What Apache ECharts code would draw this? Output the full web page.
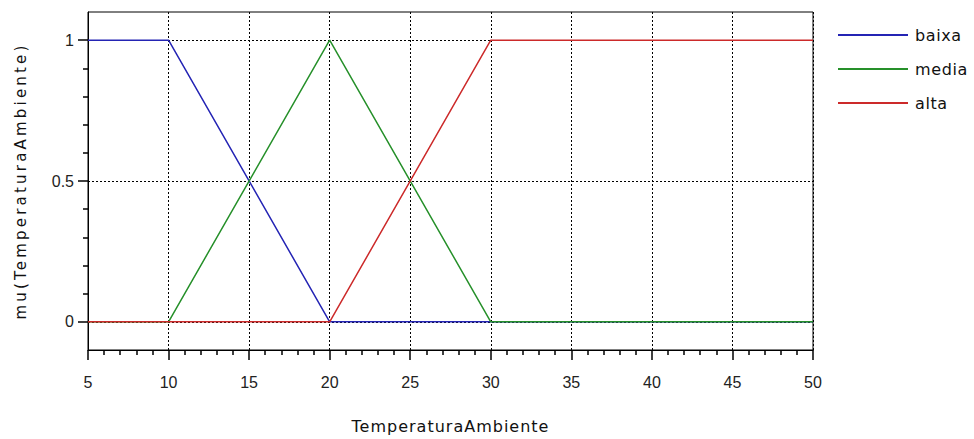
<!DOCTYPE html>
<html style="height: 100%">
<head>
    <meta charset="utf-8">
    <title>mu(TemperaturaAmbiente)</title>
</head>
<body style="height: 100%; margin: 0">
    <div id="container" style="width: 974px; height: 439px"></div>
    <script type="text/javascript" src="https://cdn.jsdelivr.net/npm/echarts@6/dist/echarts.min.js"></script>
    <script type="text/javascript">
        // funcoes de pertinencia (x, mu)
        var baixa = [[5, 1], [10, 1], [20, 0], [50, 0]];
        var media = [[5, 0], [10, 0], [20, 1], [30, 0], [50, 0]];
        var alta  = [[5, 0], [20, 0], [30, 1], [50, 1]];
        var nomes = ['baixa', 'media', 'alta'];
        var cores = ['#2424b4', '#26902a', '#cc2a2a'];
        var yMajor = [0, 0.5, 1];
        var yMinor = [0.1, 0.2, 0.3, 0.4, 0.6, 0.7, 0.8, 0.9];
        var xNome  = 'TemperaturaAmbiente';
        var yNome  = 'mu(TemperaturaAmbiente)';

        var dom     = document.getElementById("container");
        var myChart = echarts.init(dom, null, {renderer: 'svg'});
        var fonte   = 'Liberation Sans';

        function serie(nome, dados, cor) {
            return {
                name:       nome,
                type:       'line',
                data:       dados,
                showSymbol: false,
                symbol:     'none',
                lineStyle:  {color: cor, width: 1.5},
                itemStyle:  {color: cor}
            };
        }

        option = {
            animation: false,
            grid: {
                left:   88,
                right:  161,
                top:    12,
                bottom: 87,
                show:   true,
                borderColor: '#000',
                borderWidth: 1
            },
            legend: {
                orient:    'vertical',
                left:      833,
                top:       22,
                icon:      'rect',
                itemWidth: 70,
                itemHeight: 2,
                itemGap:   18,
                data:      nomes,
                textStyle: {
                    fontFamily: 'DejaVu Sans',
                    fontSize:   16,
                    color:      '#111',
                    padding:    [0, 0, 0, 2]
                }
            },
            xAxis: {
                type:     'value',
                min:      5,
                max:      50,
                interval: 5,
                name:     xNome,
                nameLocation: 'middle',
                nameGap:  68,
                nameTextStyle: {fontFamily: 'DejaVu Sans', fontSize: 16, color: '#111'},
                axisLine: {onZero: false, lineStyle: {color: '#000', width: 1}},
                axisTick: {length: 10, lineStyle: {color: '#000', width: 1.5}},
                minorTick: {show: true, splitNumber: 5, length: 5, lineStyle: {color: '#000', width: 1.5}},
                axisLabel: {margin: 24, fontFamily: fonte, fontSize: 16, color: '#222'},
                splitLine: {lineStyle: {color: '#000', type: [2, 2], width: 1}}
            },
            yAxis: [{
                type: 'value',
                min:  -0.1,
                max:  1.1,
                name: yNome,
                nameLocation: 'middle',
                nameGap: 60,
                nameTextStyle: {fontFamily: 'DejaVu Sans', fontSize: 15, color: '#111'},
                axisLine: {show: true, onZero: false, lineStyle: {color: '#000', width: 1}},
                axisTick: {show: true, length: 10, customValues: yMajor, lineStyle: {color: '#000', width: 1.5}},
                axisLabel: {margin: 14, customValues: yMajor, fontFamily: fonte, fontSize: 16, color: '#222'},
                splitLine: {show: true, lineStyle: {color: '#000', type: [2, 2], width: 1}}
            }, {
                type: 'value',
                min:  -0.1,
                max:  1.1,
                position: 'left',
                axisLine: {show: false, onZero: false},
                axisTick: {show: true, length: 5, customValues: yMinor, lineStyle: {color: '#000', width: 1.5}},
                axisLabel: {show: false},
                splitLine: {show: false}
            }],
            series: [
                serie(nomes[0], baixa, cores[0]),
                serie(nomes[1], media, cores[1]),
                serie(nomes[2], alta,  cores[2])
            ]
        };

        // espacamento entre letras dos titulos (como no grafico original)
        function espacar() {
            var textos = dom.querySelectorAll('text');
            for (var i = 0; i < textos.length; i++) {
                var t = textos[i].textContent;
                if (t === yNome) textos[i].style.letterSpacing = '3.2px';
                else if (t === xNome) textos[i].style.letterSpacing = '1px';
                else if (nomes.indexOf(t) >= 0) textos[i].style.letterSpacing = '0.6px';
            }
        }

        myChart.setOption(option, true);
        espacar();
        myChart.on('finished', espacar);
    </script>
</body>
</html>
